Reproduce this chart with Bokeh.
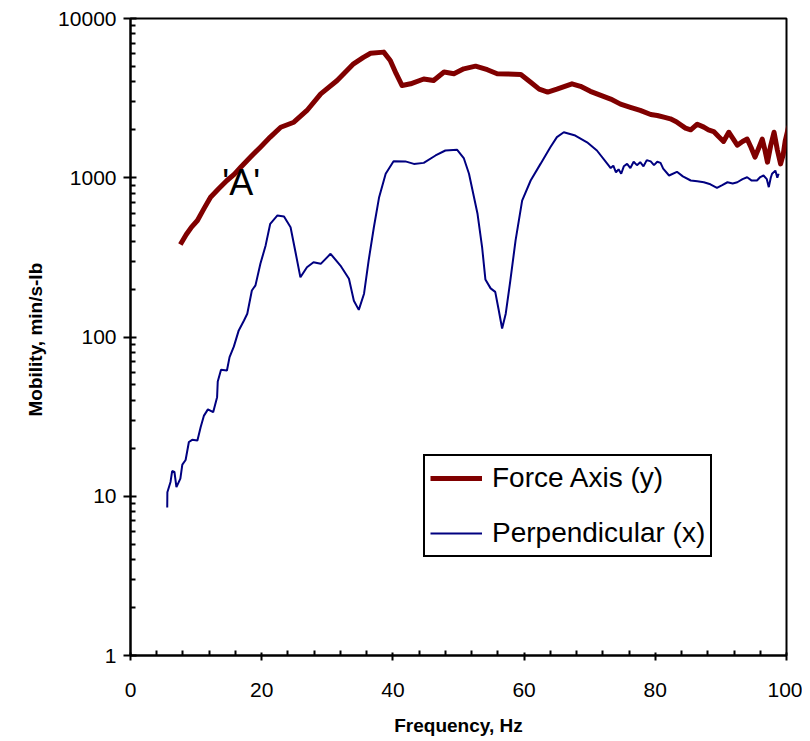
from bokeh.plotting import figure
from bokeh.models import (Range1d, FixedTicker, PrintfTickFormatter,
                          Legend, LegendItem, Label)
from bokeh.embed import file_html
from bokeh.resources import INLINE

# ---- data ----
force_f = [7.6, 8.5, 9.3, 10.2, 11.2, 12.2, 13.4, 14.7, 15.8, 16.8, 18.3, 19.8, 21.3, 22.9,
           24.9, 26.9, 29.0, 31.5, 34.0, 35.5, 36.6, 38.6, 39.6, 40.5, 41.4, 42.7, 44.7, 46.2,
           47.8, 49.3, 50.8, 52.6, 54.4, 55.9, 57.5, 59.5, 61.0, 62.3, 63.6, 65.0, 67.3, 68.6,
           70.1, 71.6, 73.2, 74.7, 76.2, 77.7, 79.3, 80.3, 81.3, 82.3, 83.2, 83.8, 84.6, 85.4,
           86.4, 87.4, 88.1, 88.9, 89.6, 90.4, 91.2, 91.9, 92.5, 93.3, 94.0, 94.6, 95.2, 95.8,
           96.3, 96.7, 97.1, 97.6, 98.1, 98.6, 99.1, 99.5, 99.8, 100.3, 100.8]
force_v = [381, 440, 490, 539, 640, 755, 850, 961, 1050, 1164, 1350, 1556, 1800, 2076,
           2232, 2645, 3365, 4080, 5190, 5700, 6050, 6150, 5450, 4500, 3795, 3890, 4170, 4080,
           4610, 4500, 4830, 5020, 4770, 4500, 4480, 4450, 3980, 3600, 3450, 3600, 3890, 3750,
           3490, 3300, 3120, 2900, 2770, 2650, 2495, 2460, 2400, 2345, 2250, 2160, 2050, 2000,
           2170, 2080, 2000, 1950, 1820, 1690, 1930, 1750, 1600, 1690, 1750, 1550, 1347, 1550,
           1750, 1500, 1253, 1600, 1930, 1500, 1222, 1400, 1700, 2076, 2000]

perp_f = [5.6, 5.62, 6.1, 6.35, 6.7, 7.0, 7.6, 7.9, 8.4, 8.9, 9.4, 10.2, 10.7, 11.2, 11.8,
          12.6, 13.2, 13.3, 13.8, 14.7, 15.1, 15.75, 16.5, 17.3, 17.8, 18.5, 19.05, 19.8, 20.6,
          21.3, 22.4, 23.4, 24.4, 25.2, 25.9, 26.9, 27.9, 29.0, 30.5, 32.0, 33.3, 34.05, 34.8,
          35.6, 36.3, 37.1, 37.9, 38.9, 40.1, 41.9, 43.2, 44.7, 46.5, 48.0, 49.8, 50.8, 51.6,
          52.9, 53.6, 54.1, 54.9, 55.6, 56.1, 56.65, 57.2, 57.9, 58.7, 59.7, 61.0, 62.5, 64.0,
          65.0, 66.05, 67.8, 69.6, 71.1, 72.7, 73.2, 73.6, 74.0, 74.4, 74.8, 75.2, 75.7, 76.2,
          76.7, 77.2, 77.7, 78.2, 78.7, 79.3, 79.8, 80.3, 80.8, 81.2, 82.1, 83.3, 84.2, 85.4,
          86.4, 87.4, 88.4, 89.4, 90.2, 91.0, 91.8, 92.5, 93.3, 94.0, 94.7, 95.5, 96.0, 96.5,
          97.0, 97.3, 97.6, 97.8, 98.3, 98.6, 98.8]
perp_v = [8.5, 10.6, 12.3, 14.4, 14.2, 11.4, 12.9, 15.8, 16.9, 21.9, 22.6, 22.4, 27.2, 32.1, 35.1,
          33.7, 41.9, 52.6, 62.3, 61.6, 74.7, 87, 110, 127, 140, 196, 211, 288, 376,
          514, 580, 571, 489, 333, 237, 274, 295, 288, 333, 281, 232, 169, 148,
          187, 302, 489, 755, 1059, 1270, 1267, 1222, 1240, 1380, 1483, 1497, 1330, 1059,
          594, 366, 230, 202, 192, 150, 113, 140, 226, 404, 719, 961, 1222, 1556,
          1800, 1930, 1840, 1670, 1483, 1222, 1150, 1190, 1080, 1130, 1060, 1180, 1222, 1150,
          1260, 1200, 1253, 1180, 1290, 1267, 1200, 1260, 1240, 1140, 1033, 1090, 1020, 961,
          950, 937, 910, 865, 900, 937, 920, 937, 980, 1007, 960, 961, 1010, 1033,
          980, 873, 1000, 1059, 1109, 1000, 1059]

x_major = [0, 20, 40, 60, 80, 100]
x_minor = [4, 8, 12, 16, 24, 28, 32, 36, 44, 48, 52, 56, 64, 68, 72, 76, 84, 88, 92, 96]
y_major = [1, 10, 100, 1000, 10000]
y_minor = [m * d for d in [1, 10, 100, 1000] for m in range(2, 10)]

series_names = ["Force Axis (y)", "Perpendicular (x)"]
x_title = "Frequency, Hz"
y_title = "Mobility,  min/s-lb"
note_text = "'A'"
note_pos = (14.0, 930)

FONT = "Liberation Sans"

p = figure(frame_width=656, frame_height=637, output_backend="svg", toolbar_location=None,
           y_axis_type="log", x_range=Range1d(0, 100), y_range=Range1d(1, 10000),
           min_border_left=130, min_border_right=16, min_border_top=18, min_border_bottom=78)
p.background_fill_color = "white"
p.border_fill_color = "white"
p.outline_line_color = "black"
p.outline_line_width = 2
p.outline_line_alpha = 1.0
p.grid.visible = False

r1 = p.line(force_f, force_v, line_color="#800000", line_width=5, line_join="round")
r2 = p.line(perp_f, perp_v, line_color="#000080", line_width=2)

# axes
xa = p.xaxis[0]
xa.ticker = FixedTicker(ticks=x_major, minor_ticks=x_minor)
ya = p.yaxis[0]
ya.ticker = FixedTicker(ticks=y_major, minor_ticks=y_minor)
ya.formatter = PrintfTickFormatter(format="%d")

for ax in (xa, ya):
    ax.axis_line_color = "black"
    ax.axis_line_width = 2
    ax.major_tick_line_color = "black"
    ax.major_tick_line_width = 2
    ax.minor_tick_line_color = "black"
    ax.minor_tick_line_width = 2
    ax.minor_tick_in = 5
    ax.minor_tick_out = 0
    ax.major_label_text_font = FONT
    ax.major_label_text_font_size = "21px"
    ax.major_label_text_color = "black"
    ax.axis_label_text_font = FONT
    ax.axis_label_text_font_style = "bold"
    ax.axis_label_text_font_size = "19px"
    ax.axis_label_text_color = "black"

xa.major_tick_in = 3
xa.major_tick_out = 5
xa.axis_label = x_title
xa.major_label_standoff = 22
xa.axis_label_standoff = 15

ya.major_tick_in = 6
ya.major_tick_out = 7
ya.axis_label = y_title
ya.major_label_standoff = 7
ya.axis_label_standoff = 9

legend = Legend(items=[LegendItem(label=series_names[0], renderers=[r1]),
                       LegendItem(label=series_names[1], renderers=[r2])],
                location=(293, 98))
legend.label_text_font = FONT
legend.label_text_font_size = "28px"
legend.label_text_color = "black"
legend.border_line_color = "black"
legend.border_line_alpha = 1.0
legend.border_line_width = 2
legend.background_fill_color = "white"
legend.background_fill_alpha = 1.0
legend.glyph_width = 52
legend.glyph_height = 34
legend.label_height = 34
legend.spacing = 21
legend.padding = 5
legend.margin = 0
legend.label_standoff = 10
p.add_layout(legend)

p.add_layout(Label(x=note_pos[0], y=note_pos[1], text=note_text, text_font=FONT,
                   text_font_size="36px", text_color="black", text_baseline="alphabetic"))

open("out.html", "w").write(file_html(p, INLINE))
